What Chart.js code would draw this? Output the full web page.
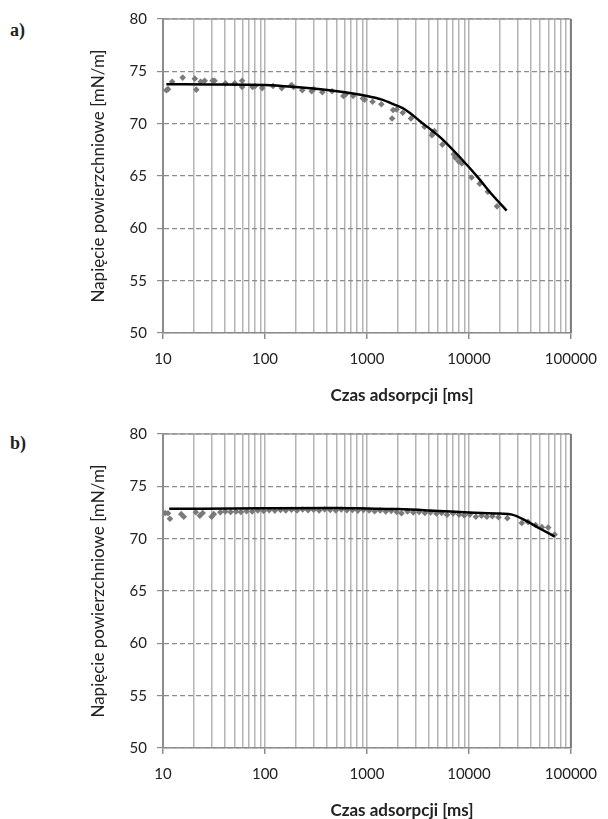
<!DOCTYPE html>
<html>
<head>
<meta charset="utf-8">
<script src="https://cdn.jsdelivr.net/npm/chart.js@4.4.0/dist/chart.umd.min.js"></script>
<style>
body { margin: 0; background: #fff; width: 608px; height: 819px; position: relative; overflow: hidden; }
.lbl { position: absolute; left: 10px; font: bold 18px "Liberation Serif", serif; line-height: 20px; color: #222; }
.box { position: absolute; left: 0; width: 608px; height: 404px; }
.tx { position: absolute; left: 402px; transform: translateX(-50%); white-space: nowrap;
	font: bold 17px Lato, sans-serif; line-height: 20px; color: #222; }
</style>
</head>
<body>
<div class="lbl" style="top:20px">a)</div>
<div class="lbl" style="top:433px">b)</div>
<div class="box" style="top:0"><canvas id="wykresA"></canvas></div>
<div class="box" style="top:415px"><canvas id="wykresB"></canvas></div>
<div class="tx" id="tytulA" style="top:385px"></div>
<div class="tx" id="tytulB" style="top:800px"></div>
<script>
// wykres a) - punkty pomiarowe
var czasA = [10.8, 11.2, 12.3, 15.6, 20.5, 21.2, 23.4, 25.6, 30.7, 32, 41, 50.5, 59.7, 59.7, 75.5, 80,
	94, 120, 146, 182, 190, 232, 287, 300, 365, 455, 587, 620, 731, 912, 950, 1135, 1384,
	1763, 1806, 1950, 2245, 2700, 3670, 4340, 4416, 4580, 5495, 7110, 7370, 7930, 8530,
	10620, 12760, 15350, 18850];
var napA = [73.2, 73.3, 74.0, 74.4, 74.3, 73.25, 74.0, 74.1, 74.1, 74.1, 73.85, 73.85, 74.1, 73.5, 73.5, 73.6,
	73.4, 73.6, 73.4, 73.7, 73.5, 73.2, 73.1, 73.3, 73.0, 73.1, 72.65, 72.8, 72.65, 72.4, 72.3, 72.1, 71.85,
	70.5, 71.3, 71.35, 71.05, 70.5, 69.7, 68.9, 69.1, 69.3, 68.0, 67.07, 66.75, 66.4, 66.2,
	64.85, 64.27, 63.5, 62.1];
// wykres a) - krzywa
var czasFitA = [10.8, 30, 100, 200, 490, 1000, 1400, 1830, 2280, 2700, 3290, 4400, 5500, 8500, 12300, 16250, 23400];
var napFitA = [73.76, 73.75, 73.7, 73.5, 73.12, 72.65, 72.3, 71.85, 71.45, 70.95, 70.26, 69.3, 68.5, 66.6, 64.85, 63.4, 61.7];

// wykres b) - punkty pomiarowe
var czasB = [10.5, 11.2, 11.7, 15.1, 16, 21, 23, 24.5, 30, 31.5, 36.5, 40.8, 46, 52, 58, 66, 75, 85,
	97, 110, 125, 142, 160, 182, 206, 234, 265, 300, 340, 385, 436, 495, 560, 635, 720, 815, 925,
	1050, 1190, 1350, 1530, 1730, 1960, 2180, 2500, 2850, 3250, 3700, 4200, 4800, 5400, 6100,
	7000, 8000, 9000, 10200, 11700, 13300, 15000, 17000, 19500, 23800, 33000, 38000, 45000,
	52000, 59800, 69300];
var napB = [72.45, 72.43, 71.9, 72.34, 72.1, 72.53, 72.2, 72.45, 72.1, 72.34, 72.53, 72.6, 72.55, 72.6, 72.55,
	72.62, 72.6, 72.7, 72.65, 72.72, 72.68, 72.75, 72.7, 72.76, 72.7, 72.78, 72.72, 72.76, 72.7, 72.8,
	72.74, 72.7, 72.78, 72.72, 72.75, 72.68, 72.74, 72.7, 72.62, 72.7, 72.6, 72.66, 72.55, 72.43, 72.6,
	72.5, 72.55, 72.45, 72.5, 72.4, 72.45, 72.28, 72.4, 72.3, 72.22, 72.3, 72.1, 72.2, 72.1, 72.15,
	72.05, 71.96, 71.5, 71.6, 71.3, 71.1, 71.07, 70.4];
// wykres b) - krzywa
var czasFitB = [11.5, 100, 500, 1000, 2000, 5000, 10000, 20000, 26500, 35000, 50000, 69300];
var napFitB = [72.85, 72.9, 72.92, 72.88, 72.83, 72.65, 72.5, 72.4, 72.3, 71.8, 70.95, 70.2];

var osX = [10, 100, 1000, 10000, 100000];
var osY = [50, 55, 60, 65, 70, 75, 80];

var tytulY = 'Napięcie powierzchniowe [mN/m]';
var tytulX = 'Czas adsorpcji [ms]';

document.getElementById('tytulA').textContent = tytulX;
document.getElementById('tytulB').textContent = tytulX;

var punkty = function (xs, ys) {
	return xs.map(function (x, i) { return {x: x, y: ys[i]}; });
};

var czyDekada = function (v) {
	return Math.abs(Math.log10(v) - Math.round(Math.log10(v))) < 1e-9;
};

// linie siatki: 1..9 w kazdej dekadzie
var siatkaX = [];
for (var d = 0; d < osX.length - 1; d++) {
	for (var m = 1; m < 10; m++) siatkaX.push(osX[d] * m);
}
siatkaX.push(osX[osX.length - 1]);

var ramka = {
	id: 'ramka',
	beforeDatasetsDraw: function (chart) {
		var a = chart.chartArea, ctx = chart.ctx;
		ctx.save();
		ctx.strokeStyle = '#989898';
		ctx.lineWidth = 1.5;
		ctx.beginPath();
		ctx.moveTo(a.left, a.top);
		ctx.lineTo(a.right, a.top);
		ctx.stroke();
		ctx.strokeStyle = '#7a7a7a';
		ctx.lineWidth = 2;
		ctx.beginPath();
		ctx.moveTo(a.right, a.top);
		ctx.lineTo(a.right, a.bottom);
		ctx.stroke();
		ctx.restore();
	}
};

function makeChart(id, czas, nap, czasFit, napFit) {
	let ctx = document.getElementById(id).getContext('2d');
	return new Chart(ctx, {
		type: 'scatter',
		data: {
			datasets: [{
				data: punkty(czasFit, napFit),
				showLine: true,
				borderColor: '#000',
				borderWidth: 2.5,
				pointRadius: 0,
				cubicInterpolationMode: 'monotone'
			}, {
				data: punkty(czas, nap),
				pointStyle: 'rectRot',
				pointRadius: 3.3,
				backgroundColor: '#7a7a7a',
				borderWidth: 0
			}]
		},
		options: {
			responsive: true,
			maintainAspectRatio: false,
			animation: false,
			layout: {padding: {left: 86, right: 28, top: 17, bottom: 0}},
			plugins: {legend: {display: false}, tooltip: {enabled: false}},
			scales: {
				x: {
					type: 'logarithmic',
					min: osX[0],
					max: osX[osX.length - 1],
					afterBuildTicks: function (scale) {
						scale.ticks = siatkaX.map(function (v) { return {value: v, major: czyDekada(v)}; });
					},
					afterFit: function (scale) { scale.height = 71; },
					ticks: {
						autoSkip: false,
						maxRotation: 0,
						padding: 11,
						color: '#222',
						font: {family: 'Lato', size: 15},
						callback: function (v) { return czyDekada(v) ? String(v) : ''; }
					},
					grid: {
						color: '#b4b4b4',
						lineWidth: 1.5,
						tickLength: 6,
						tickColor: function (c) { return c.tick && czyDekada(c.tick.value) ? '#8c8c8c' : 'rgba(0,0,0,0)'; }
					},
					border: {color: '#8c8c8c', width: 1.5}
				},
				y: {
					min: osY[0],
					max: osY[osY.length - 1],
					afterBuildTicks: function (scale) {
						scale.ticks = osY.map(function (v) { return {value: v}; });
					},
					afterFit: function (scale) { scale.width = 163 - 86; },
					ticks: {
						padding: 10,
						color: '#222',
						font: {family: 'Lato', size: 15}
					},
					grid: {
						color: '#8c8c8c',
						lineWidth: 1.2,
						tickLength: 6,
						tickColor: '#8c8c8c',
						tickBorderDash: []
					},
					border: {color: '#8c8c8c', width: 2, dash: [5, 3]},
					title: {
						display: true,
						text: tytulY,
						color: '#222',
						font: {family: 'Lato', size: 17},
						padding: {top: 2, bottom: 0}
					}
				}
			}
		},
		plugins: [ramka]
	});
}

makeChart('wykresA', czasA, napA, czasFitA, napFitA);
makeChart('wykresB', czasB, napB, czasFitB, napFitB);
</script>
</body>
</html>
